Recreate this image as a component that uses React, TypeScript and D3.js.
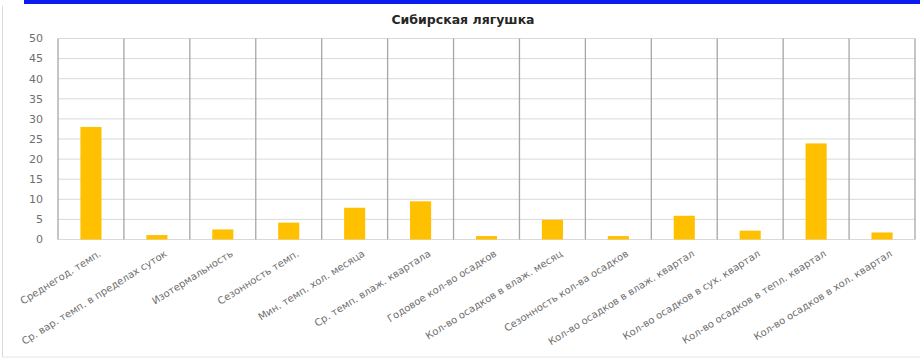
import React from "react";
import * as d3 from "d3";

const categories = [
  "Среднегод. темп.",
  "Ср. вар. темп. в пределах суток",
  "Изотермальность",
  "Сезонность темп.",
  "Мин. темп. хол. месяца",
  "Ср. темп. влаж. квартала",
  "Годовое кол-во осадков",
  "Кол-во осадков в влаж. месяц",
  "Сезонность кол-ва осадков",
  "Кол-во осадков в влаж. квартал",
  "Кол-во осадков в сух. квартал",
  "Кол-во осадков в тепл. квартал",
  "Кол-во осадков в хол. квартал",
];
const values = [28, 1.1, 2.5, 4.2, 7.9, 9.5, 0.85, 4.9, 0.85, 5.9, 2.2, 23.9, 1.75];
const yTicks = [0, 5, 10, 15, 20, 25, 30, 35, 40, 45, 50];
const title = "Сибирская лягушка";

const W = 920;
const H = 361;
const plot = { left: 58, right: 915, top: 38.5, bottom: 239.5 };

export default function App() {
  const x = d3
    .scaleBand<string>()
    .domain(categories)
    .range([plot.left, plot.right])
    .paddingInner(0)
    .paddingOuter(0);
  const y = d3.scaleLinear().domain([0, 50]).range([plot.bottom, plot.top]);
  const barW = x.bandwidth() * 0.32;
  const font = "'DejaVu Sans', Verdana, sans-serif";
  const boundaries = categories.map((c) => x(c)!).concat([plot.right]);

  return (
    <svg
      width={W}
      height={H}
      style={{ position: "absolute", left: 0, top: 0, background: "#fff" }}
    >
      <rect x={24} y={0} width={896} height={4} fill="#0a1cf0" />
      <line x1={2.5} y1={6} x2={2.5} y2={357} stroke="#d9d9d9" />
      <line x1={2.5} y1={357} x2={920} y2={357} stroke="#e6e6e6" />
      <text
        x={463}
        y={24}
        textAnchor="middle"
        fontFamily={font}
        fontSize={12.5}
        fontWeight="bold"
        fill="#262626"
      >
        {title}
      </text>
      {yTicks.map((t) => (
        <g key={t}>
          <line
            x1={plot.left}
            x2={plot.right}
            y1={y(t)}
            y2={y(t)}
            stroke="#d9d9d9"
            strokeWidth={1}
          />
          <text
            x={43}
            y={y(t)}
            dy="0.35em"
            textAnchor="end"
            fontFamily={font}
            fontSize={11}
            fill="#6f6f6f"
          >
            {t}
          </text>
        </g>
      ))}
      {boundaries.map((bx, i) => (
        <line
          key={i}
          x1={bx}
          x2={bx}
          y1={plot.top}
          y2={plot.bottom}
          stroke="#a6a6a6"
          strokeWidth={1.3}
        />
      ))}
      {categories.map((c, i) => {
        const cx = x(c)! + x.bandwidth() / 2;
        return (
          <rect
            key={c}
            x={cx - barW / 2}
            y={y(values[i])}
            width={barW}
            height={plot.bottom - y(values[i])}
            fill="#ffc000"
          />
        );
      })}
      {categories.map((c) => {
        const cx = x(c)! + x.bandwidth() / 2;
        return (
          <text
            key={c}
            transform={`translate(${cx + 9},${plot.bottom + 13}) rotate(-32)`}
            textAnchor="end"
            dy="0.35em"
            fontFamily={font}
            fontSize={10}
            fill="#6f6f6f"
          >
            {c}
          </text>
        );
      })}
    </svg>
  );
}
